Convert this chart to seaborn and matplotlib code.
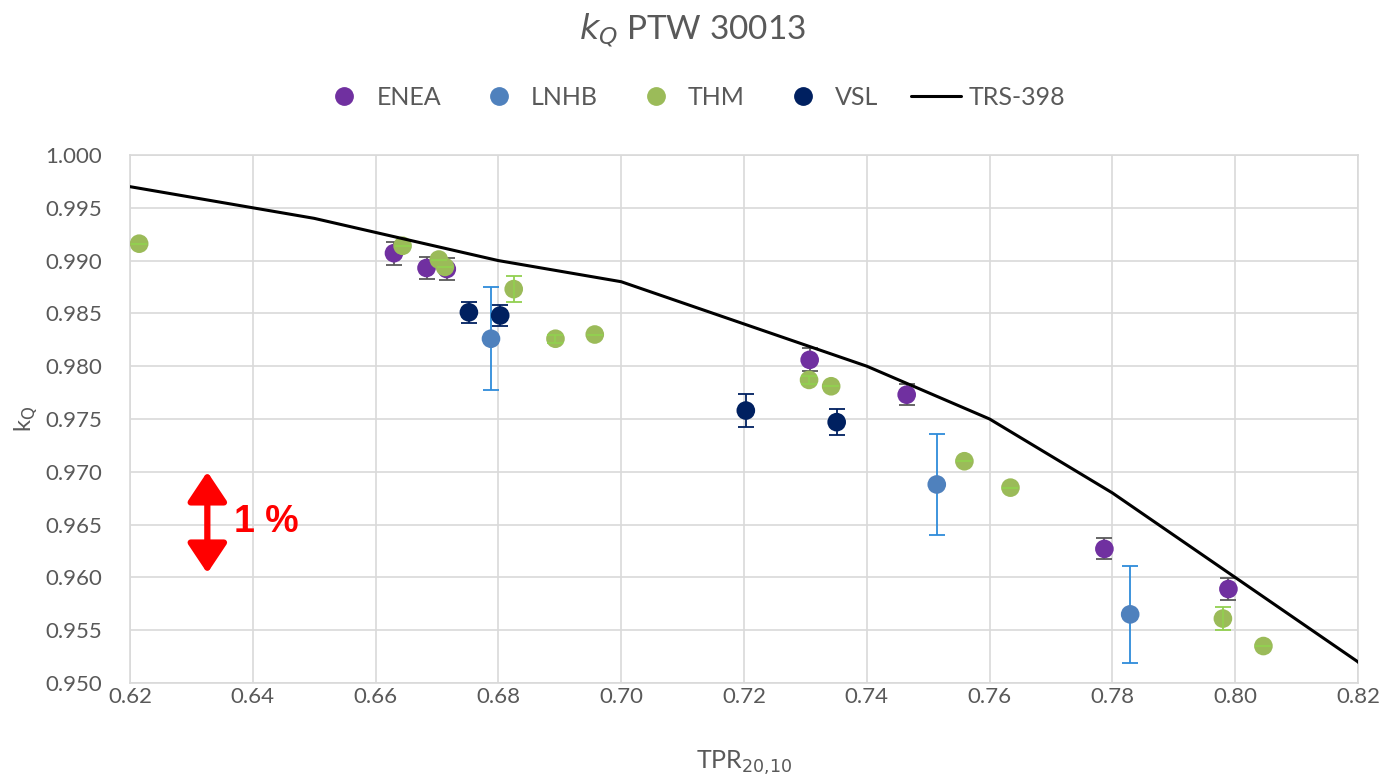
import numpy as np
import pandas as pd
import matplotlib
matplotlib.use("Agg")
import matplotlib.pyplot as plt
import seaborn as sns

# ---- data ----
enea_x = [0.6630, 0.6683, 0.6716, 0.7307, 0.7465, 0.7787, 0.7989]
enea_y = [0.9907, 0.9893, 0.9892, 0.9806, 0.9773, 0.9627, 0.9589]
enea_e = [0.0011, 0.0010, 0.0010, 0.0011, 0.0010, 0.0010, 0.0010]

lnhb_x = [0.6788, 0.7514, 0.7829]
lnhb_y = [0.9826, 0.9688, 0.9565]
lnhb_e = [0.0049, 0.0048, 0.0046]

thm_x = [0.6215, 0.6644, 0.6703, 0.6713, 0.6825, 0.6893, 0.6957, 0.7306, 0.7342, 0.7559, 0.7634, 0.7980, 0.8046]
thm_y = [0.9916, 0.9914, 0.9901, 0.9894, 0.9873, 0.9826, 0.9830, 0.9787, 0.9781, 0.9710, 0.9685, 0.9561, 0.9535]
thm_e = [0.0, 0.0, 0.0, 0.0, 0.0012, 0.0004, 0.0, 0.0004, 0.0, 0.0, 0.0, 0.0011, 0.0]

vsl_x = [0.6752, 0.6803, 0.7203, 0.7351]
vsl_y = [0.9851, 0.9848, 0.9758, 0.9747]
vsl_e = [0.0010, 0.0010, 0.0016, 0.0012]

trs_x = [0.59, 0.62, 0.65, 0.68, 0.70, 0.72, 0.74, 0.76, 0.78, 0.80, 0.82, 0.84]
trs_y = [0.999, 0.997, 0.994, 0.990, 0.988, 0.984, 0.980, 0.975, 0.968, 0.960, 0.952, 0.940]

series = ["ENEA", "LNHB", "THM", "VSL"]
colors = {"ENEA": "#7030A0", "LNHB": "#4F81BD", "THM": "#9BBB59", "VSL": "#002060"}
err_colors = {"ENEA": "#595959", "LNHB": "#2E8BDA", "THM": "#92D050", "VSL": "#002060"}

frames = []
for name, xs, ys, es in [("ENEA", enea_x, enea_y, enea_e), ("LNHB", lnhb_x, lnhb_y, lnhb_e),
                         ("THM", thm_x, thm_y, thm_e), ("VSL", vsl_x, vsl_y, vsl_e)]:
    frames.append(pd.DataFrame({"TPR": xs, "kQ": ys, "err": es, "Lab": name}))
df = pd.concat(frames, ignore_index=True)
trs = pd.DataFrame({"TPR": trs_x, "kQ": trs_y})

# ---- style ----
sns.set_theme(style="white")
plt.rcParams["font.family"] = ["Lato", "DejaVu Sans"]
grey = "#595959"
gridc = "#D9D9D9"

fig = plt.figure(figsize=(13.84, 7.78), dpi=100)
ax = fig.add_axes([0.0939, 0.1221, 0.8873, 0.6787])

for i, name in enumerate(series):
    sub = df[df["Lab"] == name]
    ax.errorbar(sub["TPR"], sub["kQ"], yerr=sub["err"], fmt="none",
                ecolor=err_colors[name], elinewidth=1.3, capsize=6, capthick=1.3, zorder=2 + 2 * i)

sns.scatterplot(data=df, x="TPR", y="kQ", hue="Lab", hue_order=series, palette=colors,
                s=180, edgecolor="none", linewidth=0, ax=ax, zorder=5, legend=False)

sns.lineplot(data=trs, x="TPR", y="kQ", color="black", lw=2.2, ax=ax, zorder=10, legend=False)

ax.set_xlim(0.62, 0.82)
ax.set_ylim(0.950, 1.000)
ax.set_xticks(np.arange(0.62, 0.8201, 0.02))
ax.set_xticklabels([f"{v:.2f}" for v in np.arange(0.62, 0.8201, 0.02)])
ax.set_yticks(np.arange(0.950, 1.0001, 0.005))
ax.set_yticklabels([f"{v:.3f}" for v in np.arange(0.950, 1.0001, 0.005)])
ax.grid(True, color=gridc, lw=1.2)
ax.set_axisbelow(True)
for sp in ax.spines.values():
    sp.set_color(gridc)
    sp.set_linewidth(1.2)
ax.tick_params(axis="both", colors=grey, labelsize=16, length=0)
ax.tick_params(axis="y", pad=20)
ax.tick_params(axis="x", pad=3)

ax.set_xlabel(r"TPR$_{20{,}10}$", color=grey, fontsize=18, labelpad=30)
ax.set_ylabel(r"k$_\mathrm{Q}$", color=grey, fontsize=17, labelpad=4)

fig.text(0.5, 0.962, r"$k_Q$ PTW 30013", ha="center", va="center", fontsize=24, color=grey)

# legend
from matplotlib.lines import Line2D
handles = [Line2D([], [], marker="o", ls="none", color=colors[n], markersize=12.5) for n in series]
handles.append(Line2D([], [], color="black", lw=2.2))
fig.legend(handles, series + ["TRS-398"], loc="center", bbox_to_anchor=(0.5, 0.875), ncol=5,
           frameon=False, fontsize=18, labelcolor=grey, handlelength=2.0, columnspacing=1.3,
           handletextpad=0.3)

# 1 % annotation
ax.annotate("", xy=(0.6326, 0.9700), xytext=(0.6326, 0.9604),
            arrowprops=dict(arrowstyle="<|-|>,head_length=0.9,head_width=0.6", color="#FF0000",
                            lw=4.5, mutation_scale=20, shrinkA=0, shrinkB=0), zorder=12)
ax.text(0.6370, 0.9652, "1 %", color="#FF0000", fontsize=27, fontweight="bold",
        ha="left", va="center", family=["Liberation Sans", "DejaVu Sans"], zorder=12)

fig.savefig("out.png", dpi=100)
